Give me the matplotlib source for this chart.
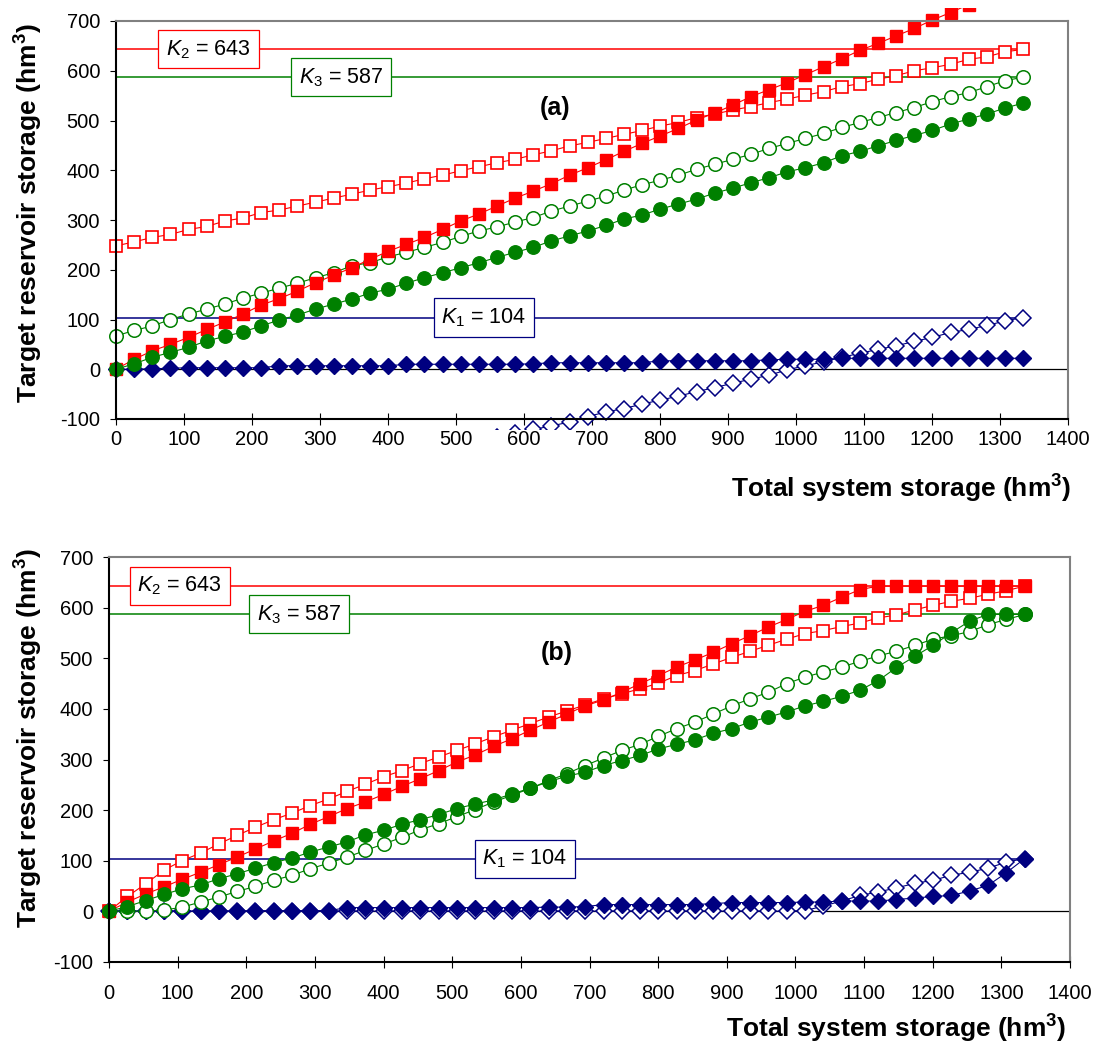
import matplotlib
matplotlib.use('Agg')
import matplotlib.pyplot as plt
from matplotlib.patches import Rectangle

plt.rcParams['font.family'] = ['Liberation Sans', 'DejaVu Sans']
plt.rcParams['mathtext.fontset'] = 'custom'
plt.rcParams['mathtext.rm'] = 'Liberation Sans'
plt.rcParams['mathtext.it'] = 'Liberation Sans:italic'
plt.rcParams['mathtext.bf'] = 'Liberation Sans:bold'
plt.rcParams['axes.unicode_minus'] = False

# total system storage (hm3), 51 steps up to K1+K2+K3
storage = [0, 26.7, 53.4, 80.0, 106.7, 133.4, 160.1, 186.8, 213.4, 240.1,
           266.8, 293.5, 320.2, 346.8, 373.5, 400.2, 426.9, 453.6, 480.2, 506.9,
           533.6, 560.3, 587.0, 613.6, 640.3, 667.0, 693.7, 720.4, 747.0, 773.7,
           800.4, 827.1, 853.8, 880.4, 907.1, 933.8, 960.5, 987.2, 1013.8, 1040.5,
           1067.2, 1093.9, 1120.6, 1147.2, 1173.9, 1200.6, 1227.3, 1254.0, 1280.6, 1307.3,
           1334.0]

K1, K2, K3 = 104, 643, 587

# ---- panel (a)
a_blue_open = [-305, -297, -289, -281, -273, -265, -257, -249, -241, -233,
               -225, -217, -209, -201, -193, -185, -177, -169, -161, -153,
               -145, -137, -129, -121, -114, -106, -95, -86, -79, -70,
               -62, -54, -45, -37, -28, -20, -12, -1, 7, 15,
               24, 32, 40, 47, 56, 64, 74, 80, 88, 97,
               104]
a_blue_fill = [0, 0, 1, 2, 3, 3, 3, 3, 3, 7,
               7, 7, 7, 7, 7, 7, 10, 10, 10, 10,
               10, 10, 10, 11, 13, 13, 13, 13, 13, 13,
               17, 17, 17, 17, 17, 17, 19, 20, 20, 20,
               22, 22, 22, 22, 22, 22, 22, 22, 22, 22,
               22]
a_red_open = [248, 256, 265, 271, 281, 287, 298, 304, 315, 320,
              328, 336, 344, 352, 360, 367, 374, 383, 390, 399,
              407, 415, 422, 431, 439, 449, 456, 464, 472, 480,
              489, 496, 506, 513, 521, 528, 536, 543, 551, 558,
              568, 574, 583, 590, 600, 606, 613, 623, 628, 638,
              643]
a_red_fill = [0, 20, 37, 50, 64, 80, 95, 111, 129, 142,
              157, 174, 189, 204, 221, 237, 251, 265, 281, 298,
              312, 328, 344, 358, 373, 390, 405, 421, 438, 454,
              469, 484, 501, 515, 531, 548, 562, 576, 592, 608,
              624, 641, 655, 670, 685, 702, 717, 733, 748, 764,
              779]
a_green_open = [67, 78, 87, 100, 111, 121, 131, 143, 153, 163,
                173, 184, 194, 208, 214, 226, 235, 245, 255, 267,
                278, 286, 296, 305, 318, 328, 338, 348, 360, 371,
                380, 390, 402, 412, 422, 432, 444, 454, 464, 474,
                486, 496, 506, 516, 526, 538, 548, 556, 568, 580,
                587]
a_green_fill = [0, 11, 24, 34, 44, 57, 66, 75, 87, 99,
                109, 121, 131, 141, 153, 161, 173, 184, 194, 204,
                214, 225, 235, 245, 258, 268, 278, 289, 302, 310,
                322, 332, 342, 354, 364, 375, 385, 397, 405, 415,
                429, 438, 449, 460, 470, 480, 493, 503, 513, 525,
                535]

# ---- panel (b)
b_blue_open = [0, 0, 0, 0, 0, 0, 0, 0, 0, 0,
               0, 0, 0, 0, 0, 0, 0, 0, 0, 0,
               0, 0, 0, 0, 0, 0, 0, 0, 0, 0,
               0, 0, 0, 0, 0, 0, 0, 0, 1, 10,
               20, 31, 38, 46, 55, 61, 71, 77, 85, 97,
               104]
b_blue_fill = [0, 0, 0, 0, 0, 0, 0, 0, 1, 1,
               1, 1, 1, 7, 7, 7, 7, 7, 7, 7,
               7, 7, 7, 7, 8, 8, 9, 13, 13, 13,
               13, 13, 13, 15, 17, 17, 17, 17, 18, 18,
               20, 20, 20, 23, 26, 29, 31, 40, 51, 76,
               104]
b_red_open = [0, 29, 54, 81, 100, 115, 133, 150, 166, 181,
              194, 209, 222, 237, 251, 266, 278, 292, 305, 318,
              331, 345, 358, 371, 384, 396, 408, 420, 430, 440,
              451, 466, 476, 489, 502, 514, 526, 538, 549, 555,
              563, 570, 580, 586, 596, 605, 613, 619, 627, 634,
              643]
b_red_fill = [0, 18, 34, 48, 63, 77, 92, 107, 123, 139,
              154, 172, 187, 203, 216, 231, 247, 262, 278, 295,
              309, 326, 341, 358, 374, 390, 406, 418, 433, 450,
              466, 483, 497, 512, 529, 545, 562, 577, 593, 605,
              621, 636, 643, 643, 643, 643, 643, 643, 643, 643,
              643]
b_green_open = [0, 0, 0, 2, 8, 18, 28, 39, 49, 61,
                71, 84, 95, 107, 120, 133, 146, 161, 173, 187,
                201, 216, 229, 243, 258, 272, 288, 303, 318, 330,
                346, 361, 374, 390, 406, 420, 433, 450, 463, 473,
                483, 494, 505, 514, 526, 538, 545, 553, 567, 577,
                587]
b_green_fill = [0, 9, 21, 33, 44, 52, 64, 74, 85, 96,
                105, 117, 127, 137, 151, 160, 172, 181, 191, 203,
                212, 220, 232, 243, 256, 267, 275, 288, 298, 308,
                321, 330, 339, 352, 361, 374, 384, 394, 406, 415,
                425, 437, 456, 482, 504, 526, 551, 574, 587, 587,
                587]

RED = '#ff0000'
GREEN = '#008000'
NAVY = '#000080'


def panel(ax, blue_o, blue_f, red_o, red_f, green_o, green_f,
          kpos, tag, tagpos, clip_bot, clip_top, xpad):
    ax.set_xlim(0, 1400)
    ax.set_ylim(-100, 700)
    ax.set_xticks(range(0, 1401, 100))
    ax.set_yticks(range(-100, 701, 100))

    ax.axhline(0, color='black', lw=0.9, zorder=1.2)

    # capacity lines and their boxed labels
    for K, c, name in [(K2, RED, '2'), (K3, GREEN, '3'), (K1, NAVY, '1')]:
        ax.plot([storage[0], storage[-1]], [K, K], color=c, lw=1.1, zorder=1.3)
        ax.text(kpos[name][0], kpos[name][1], r'$K_%s$ = %d' % (name, K),
                fontsize=15.5, ha='center', va='center', zorder=3,
                bbox=dict(boxstyle='square,pad=0.36', fc='white', ec=c, lw=0.9))

    ax.text(tagpos[0], tagpos[1], tag, fontsize=18, fontweight='bold',
            ha='center', va='center')

    lines = []
    lines += ax.plot(storage, blue_o, color=NAVY, lw=0.8, marker='D', ms=7.7,
                     mfc='white', mec=NAVY, mew=1.1)
    lines += ax.plot(storage, blue_f, color=NAVY, lw=0.8, marker='D', ms=7.7,
                     mfc=NAVY, mec=NAVY)
    lines += ax.plot(storage, red_o, color=RED, lw=0.8, marker='s', ms=9.2,
                     mfc='white', mec=RED, mew=1.2)
    lines += ax.plot(storage, green_o, color=GREEN, lw=0.8, marker='o', ms=9.7,
                     mfc='white', mec=GREEN, mew=1.1)
    lines += ax.plot(storage, red_f, color=RED, lw=0.8, marker='s', ms=9.2,
                     mfc=RED, mec=RED)
    lines += ax.plot(storage, green_f, color=GREEN, lw=0.8, marker='o', ms=9.7,
                     mfc=GREEN, mec=GREEN)
    clip = Rectangle((-40, clip_bot), 1480, clip_top - clip_bot, transform=ax.transData)
    for ln in lines:
        ln.set_clip_path(clip)

    for s in ['left', 'bottom']:
        ax.spines[s].set_color('black')
        ax.spines[s].set_linewidth(1.5)
    for s in ['top', 'right']:
        ax.spines[s].set_color('#808080')
        ax.spines[s].set_linewidth(1.5)

    ax.tick_params(axis='x', direction='inout', length=9, width=0.8,
                   labelsize=14.5, pad=xpad)
    ax.tick_params(axis='y', direction='out', length=4.5, width=0.8,
                   labelsize=14.5, pad=7)


fig = plt.figure(figsize=(10.94, 10.45), dpi=100)

ax1 = fig.add_axes([116 / 1094, 1 - 419 / 1045, 952 / 1094, 398 / 1045])
panel(ax1, a_blue_open, a_blue_fill, a_red_open, a_red_fill, a_green_open, a_green_fill,
      {'2': (136, 643), '3': (331, 587), '1': (541, 104)}, '(a)', (646, 525),
      -121, 726, 3.5)

ax2 = fig.add_axes([109 / 1094, 1 - 961.7 / 1045, 961 / 1094, 404.4 / 1045])
panel(ax2, b_blue_open, b_blue_fill, b_red_open, b_red_fill, b_green_open, b_green_fill,
      {'2': (103, 643), '3': (277, 587), '1': (606, 104)}, '(b)', (652, 510),
      -130, 730, 11.5)

ylab = r'Target reservoir storage (hm$^\mathbf{3}$)'
xlab = r'Total system storage (hm$^\mathbf{3}$)'
fig.text(29 / 1094, 1 - 213 / 1045, ylab, rotation=90, fontsize=19,
         fontweight='bold', ha='center', va='center')
fig.text(29 / 1094, 1 - 738 / 1045, ylab, rotation=90, fontsize=19,
         fontweight='bold', ha='center', va='center')
fig.text(1071 / 1094, 1 - 498 / 1045, xlab, fontsize=19, fontweight='bold',
         ha='right', va='baseline')
fig.text(1066 / 1094, 1 - 1038 / 1045, xlab, fontsize=19, fontweight='bold',
         ha='right', va='baseline')

fig.savefig('out.png', dpi=100)
